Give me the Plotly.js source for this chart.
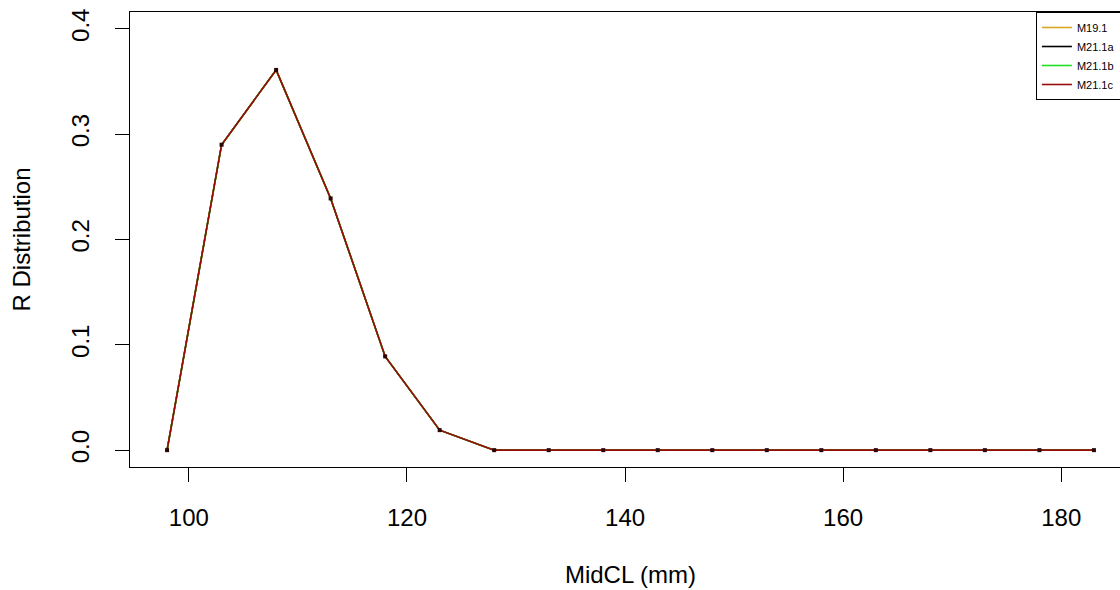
<!DOCTYPE html>
<html>
<head>
<meta charset="utf-8">
<script src="https://cdn.plot.ly/plotly-3.0.1.min.js"></script>
<style>
  html, body { margin: 0; padding: 0; overflow: hidden; background: #fff; }
  #chart { width: 1140px; height: 590px; }
</style>
</head>
<body>
<div id="chart"></div>
<script>
// Mid carapace length bins (mm)
const midCL = [98, 103, 108, 113, 118, 123, 128, 133, 138, 143, 148, 153, 158, 163, 168, 173, 178, 183];

// Recruitment distribution by model (curves overlap)
const m19_1  = [0, 0.290, 0.361, 0.239, 0.089, 0.019, 0, 0, 0, 0, 0, 0, 0, 0, 0, 0, 0, 0];
const m21_1a = [0, 0.290, 0.361, 0.239, 0.089, 0.019, 0, 0, 0, 0, 0, 0, 0, 0, 0, 0, 0, 0];
const m21_1b = [0, 0.290, 0.361, 0.239, 0.089, 0.019, 0, 0, 0, 0, 0, 0, 0, 0, 0, 0, 0, 0];
const m21_1c = [0, 0.290, 0.361, 0.239, 0.089, 0.019, 0, 0, 0, 0, 0, 0, 0, 0, 0, 0, 0, 0];

const seriesNames = ["M19.1", "M21.1a", "M21.1b", "M21.1c"];
const seriesColors = ["#DAA520", "#000000", "#22E022", "#9A0A0A"];
const seriesValues = [m19_1, m21_1a, m21_1b, m21_1c];

const xTicks = [100, 120, 140, 160, 180];
const yTicks = [0, 0.1, 0.2, 0.3, 0.4];
const yTickText = ["0.0", "0.1", "0.2", "0.3", "0.4"];

const FONT = "Liberation Sans, Arial, sans-serif";

const traces = seriesValues.map((vals, i) => ({
  type: "scatter",
  mode: "lines",
  x: midCL,
  y: vals,
  name: seriesNames[i],
  line: { color: seriesColors[i], width: 1.6 },
  hoverinfo: "x+y+name"
}));

// point markers on the top curve
traces.push({
  type: "scatter",
  mode: "markers",
  x: midCL,
  y: m21_1c,
  showlegend: false,
  marker: { symbol: "square", size: 4, color: "#2a0505" },
  hoverinfo: "skip"
});

const layout = {
  width: 1140,
  height: 590,
  margin: { l: 130, r: 9, t: 12, b: 123, autoexpand: false },
  paper_bgcolor: "#ffffff",
  plot_bgcolor: "#ffffff",
  font: { family: FONT, color: "#000000", size: 24 },
  showlegend: true,
  legend: {
    x: 0.905, y: 1, xanchor: "left", yanchor: "top",
    bordercolor: "#000000", borderwidth: 1, bgcolor: "#ffffff",
    font: { family: FONT, size: 11, color: "#000000" },
    tracegroupgap: 0
  },
  xaxis: {
    range: [94.6, 186.4],
    tickmode: "array",
    tickvals: xTicks,
    ticks: "outside", ticklen: 14, tickwidth: 1, tickcolor: "#000000",
    ticklabelstandoff: 15,
    showline: true, mirror: true, linecolor: "#000000", linewidth: 1,
    showgrid: false, zeroline: false,
    tickfont: { family: FONT, size: 24, color: "#000000" },
    title: { text: "MidCL (mm)", font: { family: FONT, size: 24, color: "#000000" }, standoff: 36 },
    automargin: false
  },
  yaxis: {
    range: [-0.016, 0.416],
    tickmode: "array",
    tickvals: yTicks,
    ticktext: yTickText,
    tickangle: -90,
    ticks: "outside", ticklen: 14, tickwidth: 1, tickcolor: "#000000",
    ticklabelstandoff: 16,
    showline: true, mirror: true, linecolor: "#000000", linewidth: 1,
    showgrid: false, zeroline: false,
    tickfont: { family: FONT, size: 24, color: "#000000" },
    title: { text: "R Distribution", font: { family: FONT, size: 24, color: "#000000" }, standoff: 30 },
    automargin: false
  }
};

Plotly.newPlot("chart", traces, layout, { displayModeBar: false, staticPlot: true });
</script>
</body>
</html>
